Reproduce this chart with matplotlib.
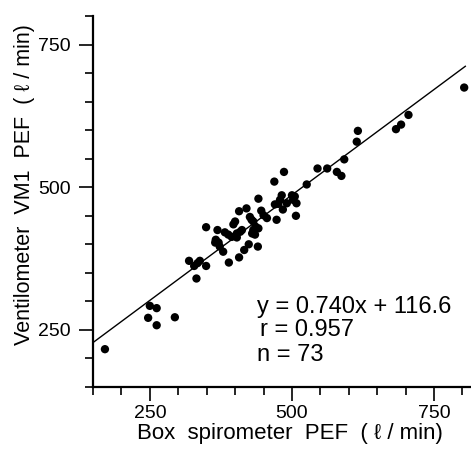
import matplotlib
matplotlib.use('Agg')
import matplotlib.pyplot as plt
from matplotlib.ticker import FixedLocator

plt.rcParams['font.family'] = ['Liberation Sans', 'DejaVu Sans']

# Box spirometer PEF (x) and Ventilometer VM1 PEF (y), l/min
box_pef = [171, 250, 262, 247, 262, 294, 319, 328, 338, 349, 332, 349, 369, 365,
           371, 373, 379, 389, 382, 388, 394, 397, 400, 407, 420, 403, 409, 412,
           407, 416, 424, 426, 429, 432, 435, 441, 441, 440, 432, 446, 450, 456,
           469, 486, 473, 470, 476, 482, 484, 491, 500, 505, 508, 507, 526, 545,
           562, 579, 587, 592, 614, 616, 683, 692, 705, 803, 366, 403, 430, 436,
           479, 502, 334]
vm1_pef = [216, 292, 288, 271, 258, 272, 371, 362, 371, 362, 340, 430, 425, 403,
           403, 396, 387, 368, 421, 417, 413, 435, 440, 458, 463, 412, 422, 425,
           377, 390, 400, 448, 443, 425, 417, 428, 480, 396, 440, 459, 451, 446,
           510, 527, 443, 470, 471, 486, 461, 472, 486, 484, 472, 450, 505, 533,
           533, 527, 520, 549, 580, 599, 602, 610, 627, 675, 408, 419, 419, 431,
           478, 478, 367]

slope = 0.740
intercept = 116.6
fit_x = [150, 805]
fit_y = [slope * v + intercept for v in fit_x]

major_ticks = [250, 500, 750]
minor_ticks = list(range(150, 801, 50))

stats_lines = ["y = 0.740x + 116.6", "r = 0.957", "n = 73"]

fig = plt.figure(figsize=(4.71, 4.53), dpi=100)
ax = fig.add_axes([93 / 471, (453 - 386.8) / 453, 378 / 471, 370.5 / 453])

ax.plot(fit_x, fit_y, color='black', lw=1.0, zorder=2)
ax.scatter(box_pef, vm1_pef, s=36, color='black', edgecolors='none', zorder=3)

ax.set_xlim(150, 815)
ax.set_ylim(150, 800)

for side in ['top', 'right']:
    ax.spines[side].set_visible(False)
for side in ['left', 'bottom']:
    ax.spines[side].set_linewidth(1.6)

ax.xaxis.set_major_locator(FixedLocator(major_ticks))
ax.yaxis.set_major_locator(FixedLocator(major_ticks))
ax.xaxis.set_minor_locator(FixedLocator(minor_ticks))
ax.yaxis.set_minor_locator(FixedLocator(minor_ticks))
ax.tick_params(which='major', direction='out', length=10, width=1.2,
               labelsize=14)
ax.tick_params(axis='x', which='major', pad=3)
ax.tick_params(axis='y', which='major', pad=6)
ax.tick_params(which='minor', direction='out', length=5.5, width=1.2)

ax.set_xlabel("Box  spirometer  PEF  ( ℓ / min)", fontsize=16, labelpad=1)
ax.set_ylabel("Ventilometer  VM1  PEF  ( ℓ / min)", fontsize=15.5, labelpad=2)
ax.xaxis.label.set_x(0.522)
ax.yaxis.label.set_y(0.547)

ax.text(438, 290, stats_lines[0], fontsize=17, va='center', ha='left')
ax.text(444, 249, stats_lines[1], fontsize=17, va='center', ha='left')
ax.text(438, 206, stats_lines[2], fontsize=17, va='center', ha='left')

fig.savefig('out.png', dpi=100)
